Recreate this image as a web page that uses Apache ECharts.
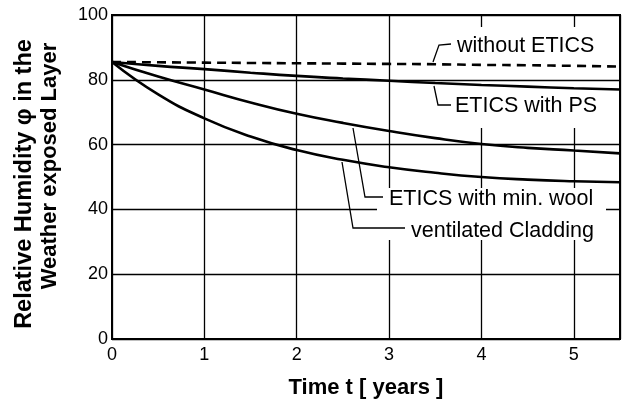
<!DOCTYPE html>
<html>
<head>
<meta charset="utf-8">
<script src="https://cdn.jsdelivr.net/npm/echarts@6/dist/echarts.min.js"></script>
<style>html,body{margin:0;padding:0;background:#fff}#c{width:623px;height:404px}</style>
</head>
<body>
<div id="c"></div>
<script>
const years = [0, 0.5, 1, 1.5, 2, 2.5, 3, 3.5, 4, 4.5, 5, 5.5];
const withoutETICS = [85.5, 85.4, 85.3, 85.2, 85.1, 85.0, 84.9, 84.8, 84.6, 84.5, 84.3, 84.1];
const eticsPS = [85.5, 84.3, 83.3, 82.2, 81.2, 80.4, 79.7, 79.0, 78.4, 77.9, 77.4, 77.0];
const eticsWool = [85.5, 81.0, 77.0, 73.0, 69.5, 66.7, 64.2, 62.0, 60.2, 59.0, 58.2, 57.3];
const ventCladding = [85.5, 75.5, 68.1, 62.5, 58.3, 55.3, 53.0, 51.3, 50.0, 49.2, 48.7, 48.4];
const seriesNames = ['without ETICS', 'ETICS with PS', 'ETICS with min. wool', 'ventilated Cladding'];
const xTicks = [0, 1, 2, 3, 4, 5];
const yTicks = [0, 20, 40, 60, 80, 100];

const FONT = '"Liberation Sans", Arial, Helvetica, sans-serif';
const pairs = arr => years.map((t, i) => [t, arr[i]]);

const chart = echarts.init(document.getElementById('c'), null, {renderer: 'canvas'});

function lineSeries(name, arr, dashed) {
  return {
    name: name, type: 'line', data: pairs(arr), smooth: true, symbol: 'none', z: 4,
    lineStyle: {color: '#000', width: 2.6, type: dashed ? [9, 6] : 'solid'}
  };
}

const leader = (pts) => ({type: 'polyline', z: 6, shape: {points: pts}, style: {stroke: '#000', lineWidth: 1.3, fill: null}});
const label = (text, x, y) => ({type: 'text', z: 6, x: x, y: y, style: {text: text, font: '21.5px ' + FONT, fill: '#000', verticalAlign: 'middle', align: 'left'}});

chart.setOption({
  animation: false,
  backgroundColor: '#fff',
  grid: {left: 112, top: 15, right: 3, bottom: 65, show: true, borderColor: '#000', borderWidth: 2, backgroundColor: 'transparent'},
  xAxis: {
    type: 'value', min: 0, max: 5.5, interval: 1, z: 0,
    axisLine: {show: true, lineStyle: {color: '#000', width: 2}},
    axisTick: {show: false},
    axisLabel: {color: '#000', fontSize: 18, fontFamily: FONT, margin: 7,
      formatter: v => xTicks.includes(v) ? String(v) : ''},
    splitLine: {show: true, lineStyle: {color: '#000', width: 1.3}},
    name: 'Time t [ years ]', nameLocation: 'middle', nameGap: 38,
    nameTextStyle: {color: '#000', fontSize: 22, fontWeight: 'bold', fontFamily: FONT}
  },
  yAxis: {
    type: 'value', min: 0, max: 100, interval: 20, z: 2,
    axisLine: {show: true, lineStyle: {color: '#000', width: 2}},
    axisTick: {show: false},
    axisLabel: {color: '#000', fontSize: 18, fontFamily: FONT, margin: 4,
      formatter: v => yTicks.includes(v) ? String(v) : ''},
    splitLine: {show: true, lineStyle: {color: '#000', width: 1.3}}
  },
  series: [
    lineSeries(seriesNames[0], withoutETICS, true),
    lineSeries(seriesNames[1], eticsPS, false),
    lineSeries(seriesNames[2], eticsWool, false),
    lineSeries(seriesNames[3], ventCladding, false)
  ],
  graphic: [
    {type: 'rect', z: 1, shape: {x: 450, y: 27, width: 156, height: 101}, style: {fill: '#fff'}},
    {type: 'rect', z: 3, shape: {x: 377, y: 188, width: 229, height: 52}, style: {fill: '#fff'}},
    {type: 'text', z: 6, x: 25, y: 184, rotation: Math.PI / 2,
      style: {text: 'Relative Humidity \u03c6 in the', font: 'bold 23.5px ' + FONT, fill: '#000', align: 'center', verticalAlign: 'middle'}},
    {type: 'text', z: 6, x: 50, y: 166, rotation: Math.PI / 2,
      style: {text: 'Weather exposed Layer', font: 'bold 22px ' + FONT, fill: '#000', align: 'center', verticalAlign: 'middle'}},
    leader([[433, 62], [439, 45], [451, 44]]),
    leader([[434, 86], [438, 105], [451, 105]]),
    leader([[353, 128], [365, 197], [383, 197]]),
    leader([[342, 162], [353, 228], [405, 228]]),
    label(seriesNames[0], 457, 46),
    label(seriesNames[1], 455, 106),
    label(seriesNames[2], 389, 199),
    label(seriesNames[3], 411, 231)
  ]
});
</script>
</body>
</html>
